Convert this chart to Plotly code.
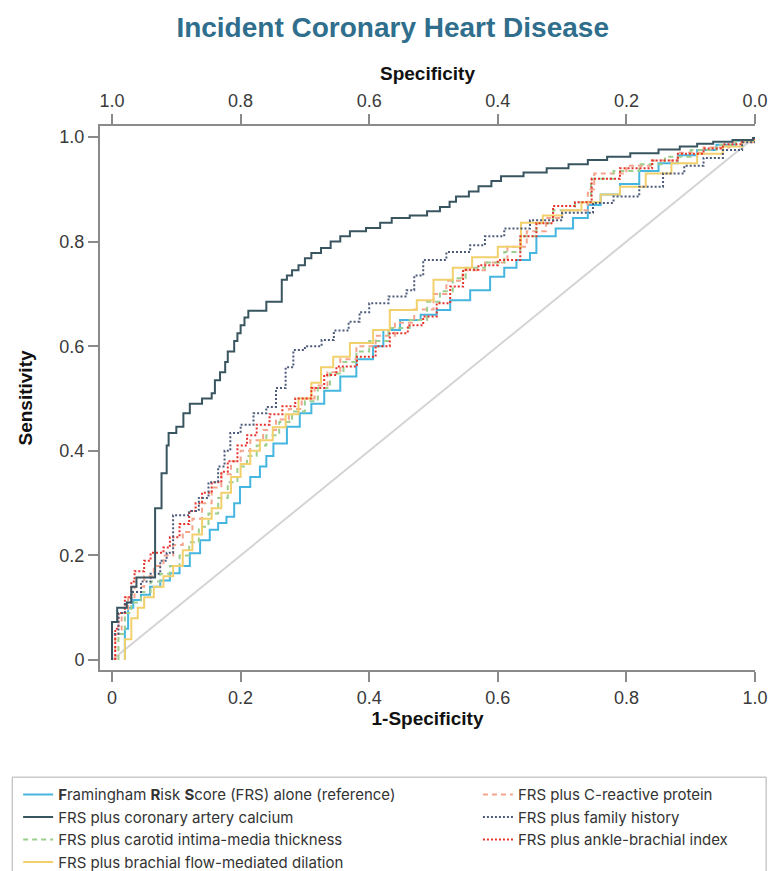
import plotly.graph_objects as go

# ---------------- data ----------------
names = [
    "<b>F</b>ramingham <b>R</b>isk <b>S</b>core (FRS) alone (reference)",
    "FRS plus coronary artery calcium",
    "FRS plus carotid intima-media thickness",
    "FRS plus brachial flow-mediated dilation",
    "FRS plus C-reactive protein",
    "FRS plus family history",
    "FRS plus ankle-brachial index",
]

frs_x = [0.02, 0.02, 0.025, 0.033, 0.045, 0.059, 0.075, 0.09, 0.105, 0.121, 0.137, 0.152, 0.165, 0.178, 0.19,
         0.199, 0.215, 0.23, 0.24, 0.251, 0.272, 0.292, 0.31, 0.33, 0.355, 0.38, 0.406, 0.422, 0.448, 0.48,
         0.505, 0.526, 0.557, 0.588, 0.61, 0.629, 0.65, 0.66, 0.69, 0.717, 0.74, 0.76, 0.79, 0.82, 0.85,
         0.88, 0.91, 0.94, 0.97, 1.0]
frs_y = [0.0, 0.06, 0.10, 0.115, 0.125, 0.14, 0.152, 0.166, 0.18, 0.204, 0.229, 0.249, 0.262, 0.274, 0.30,
         0.331, 0.35, 0.37, 0.39, 0.414, 0.446, 0.472, 0.49, 0.515, 0.542, 0.575, 0.60, 0.631, 0.65, 0.66,
         0.669, 0.688, 0.707, 0.733, 0.75, 0.765, 0.778, 0.81, 0.825, 0.845, 0.87, 0.89, 0.91, 0.935, 0.95,
         0.965, 0.975, 0.985, 0.993, 1.0]

cac_x = [0.0, 0.0, 0.008, 0.023, 0.03, 0.038, 0.067, 0.077, 0.085, 0.088, 0.10, 0.111, 0.121, 0.14, 0.155,
         0.16, 0.168, 0.176, 0.18, 0.19, 0.195, 0.20, 0.206, 0.212, 0.24, 0.264, 0.272, 0.28, 0.29, 0.30,
         0.31, 0.325, 0.34, 0.355, 0.37, 0.395, 0.417, 0.435, 0.463, 0.49, 0.51, 0.525, 0.535, 0.555, 0.57,
         0.59, 0.605, 0.64, 0.676, 0.71, 0.74, 0.77, 0.806, 0.85, 0.883, 0.91, 0.935, 0.965, 0.997, 1.0]
cac_y = [0.0, 0.073, 0.10, 0.11, 0.14, 0.158, 0.29, 0.357, 0.41, 0.434, 0.446, 0.472, 0.49, 0.50, 0.51,
         0.535, 0.55, 0.57, 0.59, 0.61, 0.625, 0.64, 0.655, 0.668, 0.685, 0.727, 0.735, 0.745, 0.755, 0.768,
         0.778, 0.788, 0.80, 0.81, 0.82, 0.826, 0.836, 0.845, 0.85, 0.858, 0.866, 0.876, 0.886, 0.896, 0.906,
         0.916, 0.925, 0.932, 0.94, 0.948, 0.956, 0.962, 0.969, 0.976, 0.982, 0.987, 0.991, 0.994, 0.998, 1.0]

cimt_x = [0.01, 0.01, 0.02, 0.03, 0.045, 0.06, 0.075, 0.09, 0.105, 0.12, 0.135, 0.15, 0.165, 0.18, 0.195,
          0.21, 0.225, 0.24, 0.26, 0.28, 0.30, 0.32, 0.339, 0.36, 0.38, 0.40, 0.43, 0.463, 0.49, 0.51, 0.53,
          0.55, 0.58, 0.61, 0.635, 0.66, 0.686, 0.72, 0.745, 0.78, 0.82, 0.86, 0.90, 0.94, 0.97, 1.0]
cimt_y = [0.0, 0.05, 0.09, 0.11, 0.13, 0.15, 0.165, 0.18, 0.20, 0.225, 0.255, 0.28, 0.31, 0.34, 0.37,
          0.39, 0.41, 0.43, 0.455, 0.475, 0.495, 0.52, 0.548, 0.57, 0.59, 0.61, 0.635, 0.65, 0.685, 0.705, 0.73,
          0.75, 0.76, 0.78, 0.81, 0.835, 0.86, 0.875, 0.92, 0.935, 0.948, 0.962, 0.975, 0.985, 0.993, 1.0]

fmd_x = [0.02, 0.02, 0.03, 0.04, 0.05, 0.065, 0.08, 0.095, 0.11, 0.125, 0.14, 0.155, 0.17, 0.185, 0.20,
         0.215, 0.23, 0.25, 0.27, 0.29, 0.31, 0.325, 0.344, 0.37, 0.406, 0.432, 0.474, 0.50, 0.53, 0.56, 0.60,
         0.636, 0.67, 0.70, 0.73, 0.76, 0.79, 0.83, 0.87, 0.91, 0.95, 0.98, 1.0]
fmd_y = [0.0, 0.04, 0.08, 0.10, 0.12, 0.14, 0.16, 0.18, 0.21, 0.24, 0.27, 0.29, 0.32, 0.35, 0.375,
         0.40, 0.42, 0.445, 0.47, 0.50, 0.53, 0.56, 0.58, 0.606, 0.631, 0.669, 0.688, 0.727, 0.75, 0.77, 0.79,
         0.836, 0.85, 0.86, 0.875, 0.89, 0.905, 0.93, 0.95, 0.968, 0.982, 0.993, 1.0]

crp_x = [0.005, 0.005, 0.015, 0.025, 0.035, 0.05, 0.065, 0.08, 0.095, 0.11, 0.125, 0.14, 0.155, 0.17, 0.185,
         0.20, 0.215, 0.235, 0.255, 0.275, 0.295, 0.315, 0.335, 0.355, 0.38, 0.41, 0.44, 0.47, 0.50, 0.52,
         0.545, 0.58, 0.615, 0.645, 0.675, 0.70, 0.74, 0.75, 0.80, 0.84, 0.88, 0.92, 0.96, 1.0]
crp_y = [0.0, 0.05, 0.09, 0.12, 0.14, 0.16, 0.18, 0.20, 0.22, 0.245, 0.27, 0.30, 0.33, 0.355, 0.38,
         0.40, 0.42, 0.44, 0.46, 0.48, 0.50, 0.525, 0.55, 0.575, 0.60, 0.62, 0.645, 0.67, 0.70, 0.725,
         0.745, 0.76, 0.79, 0.82, 0.845, 0.86, 0.90, 0.93, 0.945, 0.955, 0.97, 0.98, 0.99, 1.0]

fh_x = [0.0, 0.0, 0.01, 0.02, 0.03, 0.045, 0.06, 0.075, 0.085, 0.095, 0.12, 0.135, 0.15, 0.165, 0.175,
        0.184, 0.20, 0.22, 0.24, 0.255, 0.27, 0.282, 0.30, 0.326, 0.345, 0.368, 0.385, 0.40, 0.43, 0.458,
        0.47, 0.484, 0.52, 0.557, 0.58, 0.61, 0.65, 0.70, 0.748, 0.78, 0.82, 0.857, 0.89, 0.92, 0.95, 0.98, 1.0]
fh_y = [0.0, 0.05, 0.09, 0.11, 0.13, 0.15, 0.165, 0.19, 0.205, 0.277, 0.285, 0.31, 0.34, 0.37, 0.40,
        0.434, 0.45, 0.472, 0.484, 0.52, 0.56, 0.593, 0.60, 0.612, 0.63, 0.647, 0.665, 0.682, 0.695, 0.707,
        0.735, 0.765, 0.78, 0.793, 0.81, 0.825, 0.841, 0.855, 0.874, 0.886, 0.905, 0.93, 0.945, 0.96, 0.975, 0.99, 1.0]

abi_x = [0.005, 0.005, 0.01, 0.02, 0.03, 0.035, 0.05, 0.06, 0.08, 0.09, 0.105, 0.12, 0.13, 0.14, 0.155,
         0.17, 0.18, 0.195, 0.21, 0.225, 0.245, 0.265, 0.285, 0.31, 0.33, 0.349, 0.381, 0.41, 0.432, 0.46,
         0.484, 0.505, 0.526, 0.546, 0.57, 0.60, 0.635, 0.66, 0.686, 0.72, 0.746, 0.79, 0.84, 0.88, 0.92,
         0.95, 0.98, 1.0]
abi_y = [0.0, 0.06, 0.09, 0.12, 0.15, 0.17, 0.19, 0.205, 0.215, 0.235, 0.26, 0.285, 0.30, 0.32, 0.34,
         0.36, 0.38, 0.41, 0.43, 0.45, 0.47, 0.485, 0.50, 0.52, 0.545, 0.561, 0.58, 0.60, 0.625, 0.64,
         0.657, 0.682, 0.714, 0.746, 0.755, 0.765, 0.81, 0.835, 0.868, 0.875, 0.92, 0.94, 0.955, 0.968, 0.978,
         0.986, 0.994, 1.0]

diag = [0.0, 1.0]

spec_vals = [1.0, 0.8, 0.6, 0.4, 0.2, 0.0]
spec_text = ["1.0", "0.8", "0.6", "0.4", "0.2", "0.0"]
x_vals = [0, 0.2, 0.4, 0.6, 0.8, 1.0]
x_text = ["0", "0.2", "0.4", "0.6", "0.8", "1.0"]
y_vals = [0, 0.2, 0.4, 0.6, 0.8, 1.0]
y_text = ["0", "0.2", "0.4", "0.6", "0.8", "1.0"]

# ---------------- styles ----------------
FONT = "Liberation Sans, Arial, Helvetica, sans-serif"
LEGFONT = "Inter, Liberation Sans, Arial, sans-serif"
AX = "#8a8a8a"

series = [
    (0, frs_x, frs_y, "#45b6e0", "solid", "legend", 1),
    (1, cac_x, cac_y, "#395560", "solid", "legend", 2),
    (2, cimt_x, cimt_y, "#9ccf8e", "5px,4px", "legend", 3),
    (3, fmd_x, fmd_y, "#f2d06c", "solid", "legend", 4),
    (4, crp_x, crp_y, "#f4a48c", "5px,4px", "legend2", 5),
    (5, fh_x, fh_y, "#4d5b7a", "2px,2px", "legend2", 6),
    (6, abi_x, abi_y, "#e6322c", "2px,2px", "legend2", 7),
]
draw_order = [0, 4, 2, 3, 6, 5, 1]

fig = go.Figure()
fig.add_trace(go.Scatter(x=diag, y=diag, mode="lines", line=dict(color="#d4d4d4", width=2),
                         showlegend=False, hoverinfo="skip"))
for i in draw_order:
    idx, xs, ys, col, dash, leg, rank = series[i]
    fig.add_trace(go.Scatter(x=xs, y=ys, mode="lines", name=names[idx],
                             line=dict(color=col, width=2, dash=dash, shape="hv"),
                             legend=leg, legendrank=rank))
# invisible trace to bind the top (Specificity) axis
fig.add_trace(go.Scatter(x=[1.0, 0.0], y=[0, 1], xaxis="x2", mode="lines",
                         line=dict(color="rgba(0,0,0,0)"), showlegend=False, hoverinfo="skip"))

axis_common = dict(showline=True, linecolor=AX, linewidth=2, ticks="outside", tickcolor=AX,
                   tickwidth=2, ticklen=10, showgrid=False, zeroline=False, automargin=False,
                   tickfont=dict(size=18, color="#3a3a3a", family=FONT))

leg_common = dict(y=-0.199, yanchor="top", orientation="v", maxheight=200,
                  font=dict(size=15, color="#333333", family=LEGFONT), bgcolor="rgba(0,0,0,0)",
                  tracegroupgap=0, itemwidth=30)

fig.update_layout(
    width=773, height=871,
    margin=dict(l=100, r=18, t=126, b=201, autoexpand=False),
    paper_bgcolor="white", plot_bgcolor="white",
    font=dict(family=FONT, color="#222222"),
    title=dict(text="<b>Incident Coronary Heart Disease</b>", x=0.508, xref="container", xanchor="center",
               y=0.969, yref="container", yanchor="middle",
               font=dict(size=28, color="#2f6e8c", family=FONT)),
    xaxis=dict(range=[-0.0187, 1.0], tickvals=x_vals, ticktext=x_text,
               title=dict(text="<b>1-Specificity</b>", font=dict(size=19, color="#111"), standoff=4),
               **axis_common),
    xaxis2=dict(range=[1.0187, 0.0], overlaying="x", side="top", tickvals=spec_vals, ticktext=spec_text,
                title=dict(text="<b>Specificity</b>", font=dict(size=19, color="#111"), standoff=5),
                **axis_common),
    yaxis=dict(range=[-0.019, 1.021], tickvals=y_vals, ticktext=y_text,
               title=dict(text="<b>Sensitivity</b>", font=dict(size=19, color="#111"), standoff=22),
               **axis_common),
    legend=dict(x=-0.125, xanchor="left", **leg_common),
    legend2=dict(x=0.577, xanchor="left", **leg_common),
    shapes=[dict(type="path", xref="paper", yref="paper",
                 path="M -0.134,-0.45 L -0.134,-0.197 L 1.017,-0.197 L 1.017,-0.45",
                 line=dict(color="#b0b0b0", width=1))],
)

# remove the page's default body margin / scrollbars so the figure fills the window exactly
fig.write_html("out.html", config={"displayModeBar": False},
               post_script="document.body.style.margin='0';document.body.style.overflow='hidden';")
